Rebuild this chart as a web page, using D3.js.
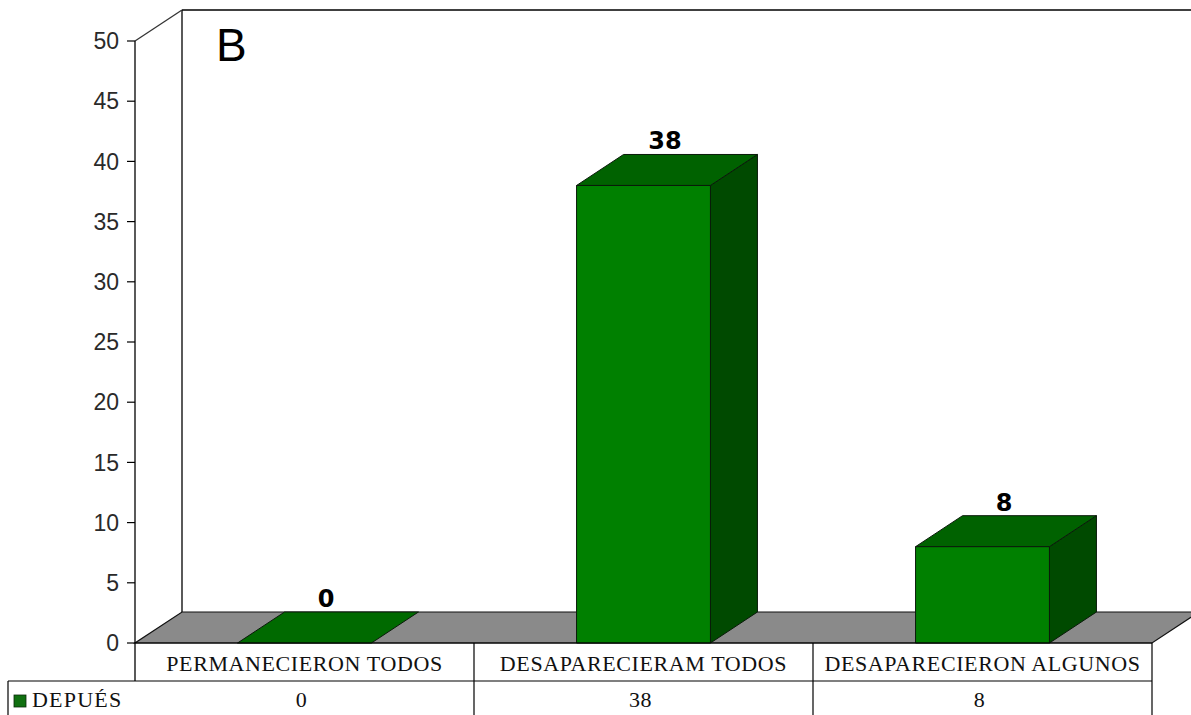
<!DOCTYPE html>
<html>
<head>
<meta charset="utf-8">
<script src="https://cdn.jsdelivr.net/npm/d3@7"></script>
<style>
  html, body { margin: 0; padding: 0; background: #fff; }
  svg { display: block; }
</style>
</head>
<body>
<svg id="chart" width="1191" height="715"></svg>
<script>
// Chart data
const categories = ["PERMANECIERON TODOS", "DESAPARECIERAM TODOS", "DESAPARECIERON ALGUNOS"];
const values = [0, 38, 8];
const seriesName = "DEPUÉS";
const yTicks = [0, 5, 10, 15, 20, 25, 30, 35, 40, 45, 50];
const panelLetter = "B";

const svg = d3.select("#chart");

// Front plane of the 3D box and the depth offset toward the back wall
const frontLeft = 135, frontRight = 1152;
const depthX = 47, depthY = -31;

const x = d3.scaleBand().domain(categories).range([frontLeft, frontRight]).padding(0);
const y = d3.scaleLinear().domain([0, 50]).range([643, 41]);
const barW = x.bandwidth() * 0.395;

const y0 = y(0), yTop = y(50);

// Back wall outline
const wall = svg.append("g").attr("fill", "none").attr("stroke", "#000").attr("stroke-width", 1.3);
wall.append("line").attr("x1", frontLeft + depthX).attr("y1", y0 + depthY)
  .attr("x2", frontLeft + depthX).attr("y2", yTop + depthY);
wall.append("line").attr("x1", frontLeft + depthX).attr("y1", yTop + depthY)
  .attr("x2", frontRight + depthX + 20).attr("y2", yTop + depthY);
wall.append("line").attr("x1", frontLeft).attr("y1", yTop)
  .attr("x2", frontLeft + depthX).attr("y2", yTop + depthY).attr("stroke", "#333");

// Floor
const floorPts = [
  [frontLeft, y0], [frontRight, y0],
  [frontRight + depthX, y0 + depthY], [frontLeft + depthX, y0 + depthY]
];
svg.append("path")
  .attr("d", d3.line()(floorPts) + "Z")
  .attr("fill", "#8a8a8a")
  .attr("stroke", "#111")
  .attr("stroke-width", 1.2);

// Bars drawn as boxes: right side, top, front
const bars = svg.append("g");
values.forEach((v, i) => {
  const cx = x(categories[i]) + x.bandwidth() / 2;
  const xl = cx - barW / 2, xr = cx + barW / 2;
  const yt = y(v);
  const g = bars.append("g").attr("stroke", "#0a1a0a").attr("stroke-width", 1).attr("stroke-linejoin", "round");
  if (v > 0) {
    g.append("path")
      .attr("d", d3.line()([[xr, y0], [xr + depthX, y0 + depthY], [xr + depthX, yt + depthY], [xr, yt]]) + "Z")
      .attr("fill", "#004a00");
  }
  g.append("path")
    .attr("d", d3.line()([[xl, yt], [xr, yt], [xr + depthX, yt + depthY], [xl + depthX, yt + depthY]]) + "Z")
    .attr("fill", v > 0 ? "#006200" : "#006a00");
  if (v > 0) {
    g.append("rect")
      .attr("x", xl).attr("y", yt)
      .attr("width", barW).attr("height", y0 - yt)
      .attr("fill", "#008000");
  }
  // value label above the bar
  svg.append("text")
    .attr("x", cx + depthX / 2 - 2)
    .attr("y", yt + depthY - 5)
    .attr("text-anchor", "middle")
    .attr("font-family", "DejaVu Sans, sans-serif")
    .attr("font-weight", "bold")
    .attr("font-size", 24)
    .attr("fill", "#000")
    .text(v);
});

// Value axis
const axis = svg.append("g");
axis.append("line").attr("x1", frontLeft).attr("y1", yTop).attr("x2", frontLeft).attr("y2", y0 + 38)
  .attr("stroke", "#000").attr("stroke-width", 1.3);
yTicks.forEach(t => {
  axis.append("line").attr("x1", frontLeft - 8).attr("x2", frontLeft)
    .attr("y1", y(t)).attr("y2", y(t)).attr("stroke", "#000").attr("stroke-width", 1.2);
  axis.append("text")
    .attr("x", frontLeft - 16).attr("y", y(t))
    .attr("dy", "0.36em")
    .attr("text-anchor", "end")
    .attr("font-family", "Liberation Sans, Arial, sans-serif")
    .attr("font-size", 23)
    .attr("fill", "#2a2a2a")
    .text(t);
});

// Panel letter
svg.append("text")
  .attr("x", 216).attr("y", 61)
  .attr("font-family", "Liberation Sans, Arial, sans-serif")
  .attr("font-size", 46)
  .attr("fill", "#000")
  .text(panelLetter);

// Data table under the chart
const rowTop = y0, row1 = 681, row2 = 740, legendLeft = 8;
const tbl = svg.append("g").attr("stroke", "#000").attr("stroke-width", 1.2).attr("fill", "none");
tbl.append("line").attr("x1", frontLeft).attr("x2", frontRight).attr("y1", rowTop).attr("y2", rowTop);
tbl.append("line").attr("x1", legendLeft).attr("x2", frontRight).attr("y1", row1).attr("y2", row1);
tbl.append("line").attr("x1", legendLeft).attr("x2", legendLeft).attr("y1", row1).attr("y2", row2);
categories.forEach((c, i) => {
  const xr = x(c) + x.bandwidth();
  tbl.append("line").attr("x1", xr).attr("x2", xr).attr("y1", rowTop).attr("y2", row2);
});

const textStyle = sel => sel
  .attr("font-family", "Liberation Serif, Times New Roman, serif")
  .attr("font-size", 22)
  .attr("letter-spacing", 0.6)
  .attr("fill", "#111")
  .attr("text-anchor", "middle");

categories.forEach((c, i) => {
  const cx = x(c) + x.bandwidth() / 2;
  svg.append("text").call(textStyle).attr("x", cx).attr("y", 671).text(c);
  svg.append("text").call(textStyle).attr("x", cx - 3).attr("y", 707).text(values[i]);
});

// Legend key in the table
svg.append("rect").attr("x", 14).attr("y", 695).attr("width", 12).attr("height", 12)
  .attr("fill", "#107010").attr("stroke", "#0a2a0a").attr("stroke-width", 0.8);
svg.append("text").call(textStyle).attr("text-anchor", "start").attr("letter-spacing", 1.2)
  .attr("x", 32).attr("y", 707).text(seriesName);
</script>
</body>
</html>
